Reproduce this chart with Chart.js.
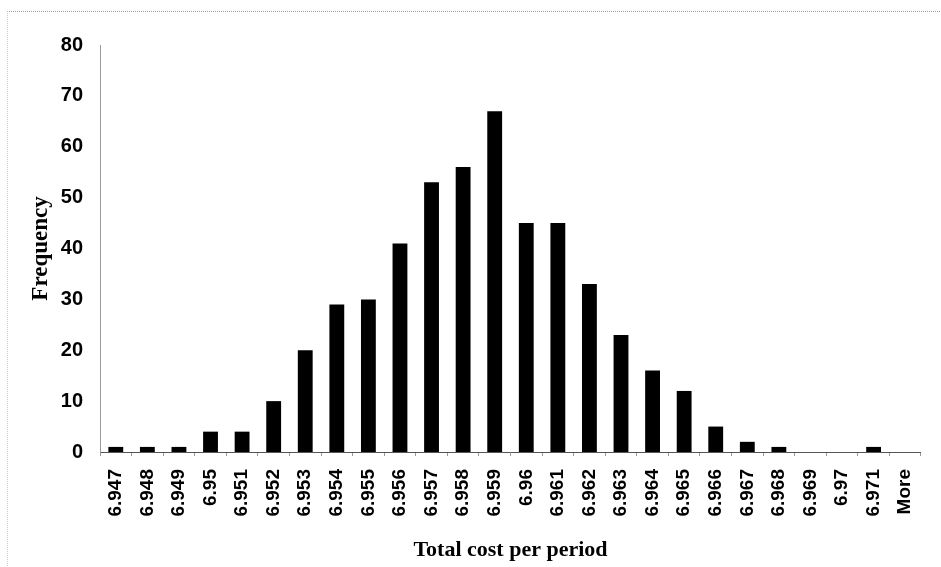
<!DOCTYPE html>
<html>
<head>
<meta charset="utf-8">
<script src="https://cdn.jsdelivr.net/npm/chart.js@4/dist/chart.umd.min.js"></script>
<style>
  body { margin: 0; background: #fff; }
  .frame { position: absolute; left: 7px; top: 11px; width: 940px; height: 560px;
           border-top: 1px dotted #999; border-left: 1px dotted #ccc; }
  .wrap { position: relative; width: 941px; height: 567px; }
  canvas { position: absolute; left: 0; top: 0; }
</style>
</head>
<body>
<div class="wrap">
  <div class="frame"></div>
  <canvas id="myChart" width="941" height="567"></canvas>
</div>
<script>
const bins = ["6.947", "6.948", "6.949", "6.95", "6.951", "6.952", "6.953", "6.954", "6.955",
  "6.956", "6.957", "6.958", "6.959", "6.96", "6.961", "6.962", "6.963", "6.964", "6.965",
  "6.966", "6.967", "6.968", "6.969", "6.97", "6.971", "More"];
const frequency = [1, 1, 1, 4, 4, 10, 20, 29, 30, 41, 53, 56, 67, 45, 45, 33, 23, 16, 12, 5, 2, 1, 0, 0, 1, 0];
const yTicks = [0, 10, 20, 30, 40, 50, 60, 70, 80];

const ctx = document.getElementById("myChart").getContext("2d");
new Chart(ctx, {
  type: "bar",
  data: {
    labels: bins,
    datasets: [{
      label: "Frequency",
      data: frequency,
      backgroundColor: "#000",
      borderWidth: 0,
      barPercentage: 0.94,
      categoryPercentage: 0.5
    }]
  },
  options: {
    responsive: false,
    animation: false,
    layout: { padding: { top: 45, right: 1, bottom: 3, left: 0 } },
    plugins: { legend: { display: false }, tooltip: { enabled: false } },
    scales: {
      x: {
        grid: { drawOnChartArea: false, drawTicks: true, tickLength: 4, color: "#999" },
        border: { color: "#555", dash: [1, 2] },
        ticks: {
          color: "#000",
          maxRotation: 90,
          minRotation: 90,
          padding: 13,
          font: { family: "Liberation Sans", size: 19, weight: "bold" }
        },
        title: {
          display: true,
          text: "Total cost per period",
          color: "#000",
          padding: { top: 0, bottom: 0 },
          font: { family: "Liberation Serif", size: 22, weight: "bold" }
        },
        afterFit: scale => { scale.height = 112; }
      },
      y: {
        min: 0,
        max: 80,
        afterBuildTicks: scale => { scale.ticks = yTicks.map(v => ({ value: v })); },
        grid: { display: false, drawTicks: false },
        border: { color: "#999", dash: [1, 2] },
        ticks: {
          color: "#000",
          padding: 17,
          font: { family: "Liberation Sans", size: 20, weight: "bold" }
        },
        title: {
          display: true,
          text: "Frequency",
          color: "#000",
          padding: { top: 27, bottom: 0 },
          font: { family: "Liberation Serif", size: 23, weight: "bold" }
        },
        afterFit: scale => { scale.width = 100; }
      }
    }
  }
});
</script>
</body>
</html>
